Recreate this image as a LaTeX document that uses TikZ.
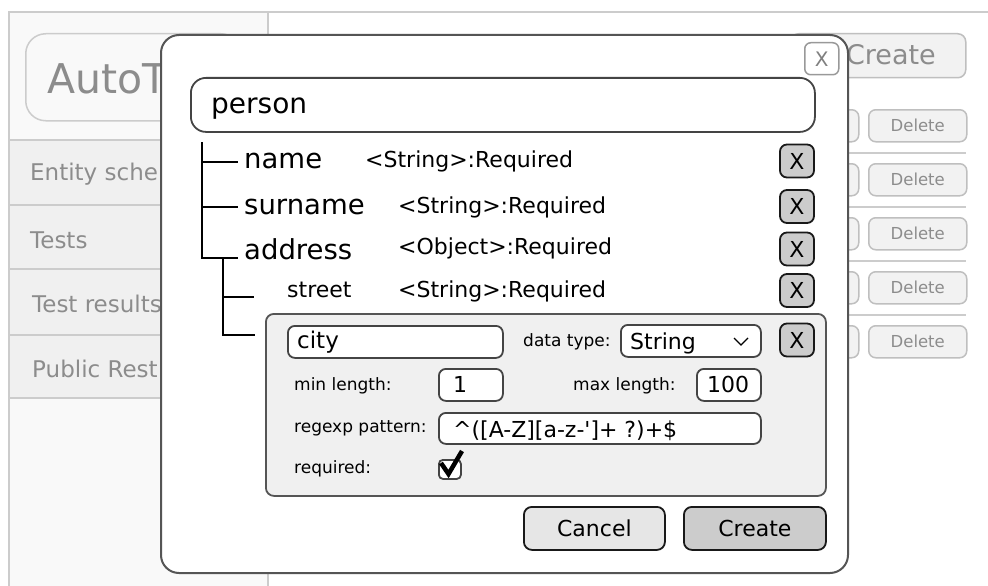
\documentclass[tikz,border=0pt]{standalone}
\usepackage{fontspec}
\setmainfont{DejaVu Sans}[Ligatures=TeXOff]
\newcommand\myfs[1]{\fontsize{#1}{#1}\selectfont}
\definecolor{bgline}{HTML}{CCCCCC}
\definecolor{bgfill}{HTML}{F9F9F9}
\definecolor{menufill}{HTML}{F0F0F0}
\definecolor{bgtext}{HTML}{8C8C8C}
\definecolor{bgbtnfill}{HTML}{F2F2F2}
\definecolor{bgbtnline}{HTML}{BFBFBF}
\definecolor{dlgline}{HTML}{555555}
\definecolor{fieldline}{HTML}{444444}
\definecolor{panelfill}{HTML}{F0F0F0}
\definecolor{btngray}{HTML}{CCCCCC}
\definecolor{btnlight}{HTML}{E6E6E6}
\begin{document}
\begin{tikzpicture}[x=1pt,y=-1pt,
  box/.style 2 args={minimum width=#1, minimum height=#2, anchor=north west, inner sep=0pt},
  bgbtn/.style={draw=bgbtnline, fill=bgbtnfill, line width=1.5pt, rounded corners=7pt},
  bgtxt/.style={text=bgtext, inner sep=0pt, anchor=base west},
  dialog/.style={draw=dlgline, fill=white, line width=2pt, rounded corners=18pt},
  field/.style={draw=fieldline, fill=white, line width=1.8pt, rounded corners=7pt},
  xbtn/.style={draw=black!90, fill=btngray, line width=1.8pt, rounded corners=7pt,
    minimum width=34pt, minimum height=33pt, inner sep=0pt, font=\myfs{22}},
  lbl/.style={inner sep=0pt, anchor=base west, font=\myfs{17}},
  val/.style={inner sep=0pt, anchor=base west, font=\myfs{22}},
  prop/.style={inner sep=0pt, anchor=base west, font=\myfs{27.5}},
  ptype/.style={inner sep=0pt, anchor=base west, font=\myfs{22}},
  tree/.style={draw=black, line width=2pt},
  bigbtn/.style={draw=black!90, line width=1.8pt, rounded corners=8pt, font=\myfs{22}}
]
\useasboundingbox (0,0) rectangle (988,586);
\fill[white] (0,0) rectangle (988,586);

% ---------- application frame behind the dialog ----------
\draw[bgline, line width=1.5pt] (9,12) -- (988,12);
\path[fill=bgfill, draw=bgline, line width=1.5pt] (9,12) rectangle (268,600);

% logo button
\node[draw=bgline, fill=bgfill, line width=1.5pt, rounded corners=20pt, box={215pt}{87pt}] (logo) at (25,33) {};
\node[bgtxt, font=\myfs{41}] (logoTxt) at (47,93) {AutoT};

% side menu
\path[fill=menufill, draw=bgline, line width=1.5pt] (9,140) rectangle (268,205);
\path[fill=menufill, draw=bgline, line width=1.5pt] (9,205) rectangle (268,269);
\path[fill=menufill, draw=bgline, line width=1.5pt] (9,269) rectangle (268,335);
\path[fill=menufill, draw=bgline, line width=1.5pt] (9,335) rectangle (268,398);
\node[bgtxt, font=\myfs{23}] (m1) at (30,180) {Entity sche};
\node[bgtxt, font=\myfs{23}] (m2) at (30,248) {Tests};
\node[bgtxt, font=\myfs{23}] (m3) at (32,312) {Test results};
\node[bgtxt, font=\myfs{23}] (m4) at (32,377) {Public Rest};

% top create button
\node[bgbtn, rounded corners=8pt, box={175pt}{44pt}] (topCreate) at (790,33) {};
\node[text=bgtext, inner sep=0pt, anchor=base east, font=\myfs{27}] (topCreateTxt) at (936,65) {Create};

% list rows with buttons
\foreach \c [count=\i] in {125,179,233,287,341}{
  \node[bgbtn, box={88pt}{32pt}] (edit\i) at (770,\c-16) {};
  \node[bgbtn, box={98pt}{32pt}, text=bgtext, font=\myfs{16.5}] (del\i) at (868,\c-16) {Delete};
}
\foreach \c in {153,207,261,315}{
  \draw[bgline, line width=1.5pt] (275,\c) -- (966,\c);
}

% ---------- dialog ----------
\node[dialog, box={687pt}{538pt}] (dlg) at (160,34) {};
\node[draw=black!40, fill=white, line width=1.5pt, rounded corners=6pt, box={34pt}{32pt},
      text=black!50, font=\myfs{20}] (close) at (804,42) {X};

% entity name
\node[field, rounded corners=15pt, box={624pt}{54pt}] (entity) at (190,77) {};
\node[inner sep=0pt, anchor=base west, font=\myfs{28}] (entityTxt) at (211,113) {person};

% property tree
\node[prop] (pName) at (244,168) {name};
\node[prop] (pSurname) at (244,214) {surname};
\node[prop] (pAddress) at (244,259) {address};
\node[inner sep=0pt, anchor=base west, font=\myfs{22}] (pStreet) at (287,297) {street};
\node[ptype] (tName) at (365,167) {<String>:Required};
\node[ptype] (tSurname) at (398,213) {<String>:Required};
\node[ptype] (tAddress) at (398,254) {<Object>:Required};
\node[ptype] (tStreet) at (398,297) {<String>:Required};

\coordinate (t0) at (202,142);
\coordinate (bName) at (238,162);
\coordinate (bSurname) at (238,207);
\coordinate (bAddress) at (238,258);
\coordinate (t1) at (223,258);
\coordinate (bStreet) at (254,297);
\coordinate (bCity) at (255,335);
\draw[tree] (t0) |- (bAddress);
\draw[tree] (t0 |- bName) -- (bName);
\draw[tree] (t0 |- bSurname) -- (bSurname);
\draw[tree] (t1) |- (bCity);
\draw[tree] (t1 |- bStreet) -- (bStreet);

% remove buttons
\node[xbtn] (x1) at (797,161) {X};
\node[xbtn] (x2) at (797,206.5) {X};
\node[xbtn] (x3) at (797,249) {X};
\node[xbtn] (x4) at (797,290.5) {X};

% ---------- property editor ----------
\node[draw=dlgline, fill=panelfill, line width=1.8pt, rounded corners=8pt, box={560pt}{182pt}] (editor) at (265,313) {};
\node[xbtn] (x5) at (797,340) {X};

\node[field, box={215pt}{32pt}] (cityBox) at (287,325) {};
\node[inner sep=0pt, anchor=base west, font=\myfs{23}] (cityTxt) at (297,348) {city};

\node[lbl] (typeLbl) at (523,346) {data type:};
\node[field, box={140pt}{32pt}] (typeBox) at (620,324) {};
\node[val] (typeTxt) at (630,349) {String};
\coordinate (chevL) at (734,338);
\coordinate (chevM) at (741,345);
\coordinate (chevR) at (748,338);
\draw[line width=1.3pt] (chevL) -- (chevM) -- (chevR);

\node[lbl] (minLbl) at (294,390) {min length:};
\node[field, box={64pt}{32pt}] (minBox) at (438,368) {};
\node[val] (minTxt) at (453,392) {1};

\node[lbl] (maxLbl) at (573,390) {max length:};
\node[field, box={64pt}{32pt}] (maxBox) at (696,368) {};
\node[val] (maxTxt) at (707,392) {100};

\node[lbl] (reLbl) at (294,432) {regexp pattern:};
\node[field, box={322pt}{31pt}] (reBox) at (438,412) {};
\node[val] (reTxt) at (453,437) {\^{}([A-Z][a-z-']+ ?)+\$};

\node[lbl] (reqLbl) at (294,473) {required:};
\node[draw=fieldline, fill=white, line width=1.8pt, rounded corners=4pt, box={22pt}{19pt}] (reqBox) at (438,459) {};
\coordinate (ck1) at (441,463);
\coordinate (ck2) at (448.5,474);
\coordinate (ck3) at (462,451);
\draw[line width=4.5pt, line join=miter] (ck1) -- (ck2) -- (ck3);

% dialog actions
\node[bigbtn, fill=btnlight, box={141pt}{43pt}] (cancel) at (523,506) {Cancel};
\node[bigbtn, fill=btngray, box={142pt}{43pt}] (create) at (683,506) {Create};
\end{tikzpicture}
\end{document}
